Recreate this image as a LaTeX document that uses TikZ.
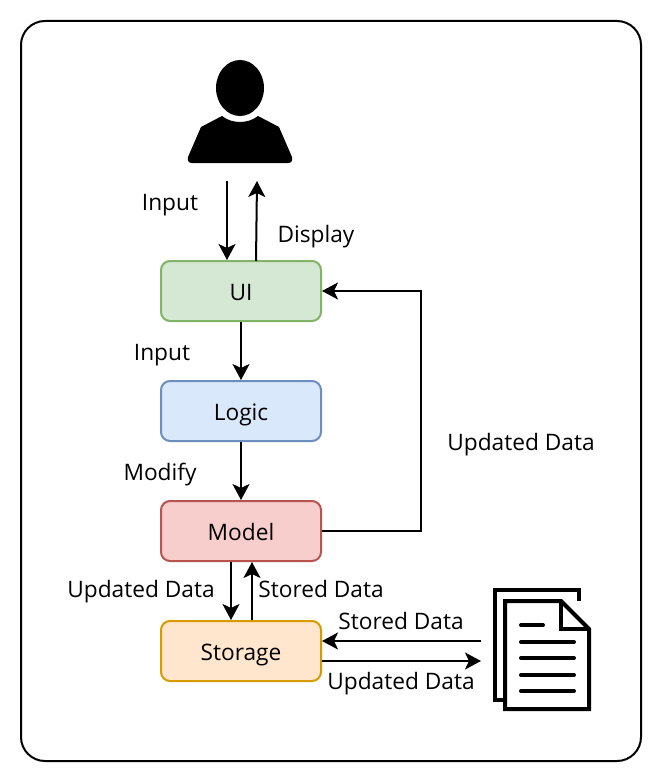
\documentclass[tikz,border=0pt]{standalone}
\usepackage{fontspec}
\setmainfont{Open Sans}
\usetikzlibrary{arrows.meta}
\definecolor{uifill}{HTML}{D5E8D4}
\definecolor{uiline}{HTML}{82B366}
\definecolor{logicfill}{HTML}{DAE8FC}
\definecolor{logicline}{HTML}{6C8EBF}
\definecolor{modelfill}{HTML}{F8CECC}
\definecolor{modelline}{HTML}{B85450}
\definecolor{storefill}{HTML}{FFE6CC}
\definecolor{storeline}{HTML}{D79B00}
\begin{document}
\begin{tikzpicture}[x=1pt,y=-1pt]
	\tikzstyle{block}=[rectangle,rounded corners=9pt,line width=2pt,minimum width=160pt,minimum height=60pt,font=\fontsize{22.7}{25}\selectfont,inner sep=0pt,text height=20pt,text depth=2pt]
	\tikzstyle{lbl}=[font=\fontsize{22.7}{25}\selectfont,inner sep=0pt,text height=20pt,text depth=2pt]
	\tikzstyle{edge}=[draw,line width=2pt,-{Stealth[length=16pt,width=17pt,inset=4pt]}]
	\tikzstyle{icon}=[line width=4pt,line join=miter]
	\useasboundingbox (0,0) rectangle (664,784);
	\draw[line width=2pt,rounded corners=24pt,fill=white] (21,21) rectangle (641,761);

	% user icon
	\fill (240,88) ellipse [x radius=24pt,y radius=28pt];
	\fill (222,116) .. controls (232,124) and (248,124) .. (258,116) -- (279,127) -- (292,157) .. controls (293,161) and (291,163) .. (288,163) -- (192,163) .. controls (189,163) and (187,161) .. (188,157) -- (201,127) -- cycle;

	% boxes
	\node [block,fill=uifill,draw=uiline] (ui) at (241,291) {UI};
	\node [block,fill=logicfill,draw=logicline] (logic) at (241,411) {Logic};
	\node [block,fill=modelfill,draw=modelline] (model) at (241,531) {Model};
	\node [block,fill=storefill,draw=storeline] (storage) at (241,651) {Storage};

	% free ends
	\coordinate (userin) at (227,181);
	\coordinate (userout) at (257,181);
	\coordinate (uiout) at (256,261);
	\coordinate (mdown) at (231,591);
	\coordinate (mup) at (252,591);
	\coordinate (docin) at (481,661);
	\coordinate (docout) at (481,641);
	\coordinate (turn) at (421,411);

	\path[edge] (userin) -- (userin |- ui.north);
	\path[edge] (uiout) -- (userout);
	\path[edge] (ui) -- (logic);
	\path[edge] (logic) -- (model);
	\path[edge] (model.east) -- (turn |- model.east) -- (turn |- ui.east) -- (ui.east);
	\path[edge] (mdown |- model.south) -- (mdown |- storage.north);
	\path[edge] (mup |- storage.north) -- (mup |- model.south);
	\path[edge] (docout) -- (docout -| storage.east);
	\path[edge] (docin -| storage.east) -- (docin);

	% labels
	\node [lbl] (input1) at (170,201) {Input};
	\node [lbl] (display) at (316,233) {Display};
	\node [lbl] (input2) at (162,351) {Input};
	\node [lbl] (modify) at (160,471) {Modify};
	\node [lbl] (updated1) at (521,441) {Updated Data};
	\node [lbl] (updated2) at (141,588) {Updated Data};
	\node [lbl] (stored1) at (321,588) {Stored Data};
	\node [lbl] (stored2) at (401,620) {Stored Data};
	\node [lbl] (updated3) at (401,680) {Updated Data};

	% document icon
	\draw[icon] (503,700) -- (495,700) -- (495,590) -- (579,590) -- (579,601);
	\draw[icon,fill=white] (505,601) -- (561,601) -- (589,629) -- (589,709) -- (505,709) -- cycle;
	\draw[icon] (561,601) -- (561,629) -- (589,629);
	\foreach \y/\xend in {625/543,642/574,658/574,675/574,691/574}
		\draw[line width=4pt,line cap=round] (521,\y) -- (\xend,\y);
\end{tikzpicture}
\end{document}
